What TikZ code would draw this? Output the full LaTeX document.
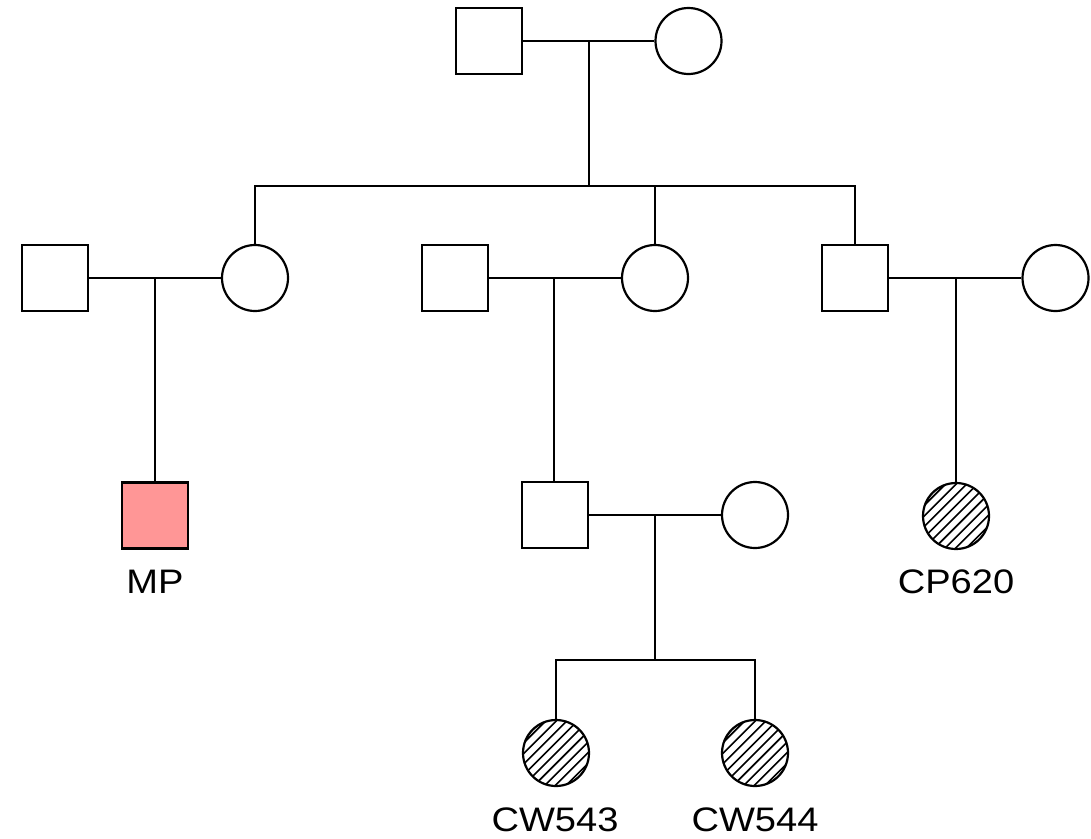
\documentclass[tikz,border=0pt]{standalone}
\usepackage{fontspec}
\setmainfont[FakeStretch=1.12]{Liberation Sans}
\usetikzlibrary{calc}
\definecolor{affpink}{RGB}{255,150,150}
\begin{document}
\begin{tikzpicture}[x=1pt,y=-1pt,line width=2.2pt,
  male/.style={draw,rectangle,minimum size=66pt,inner sep=0pt,line width=2.2pt,fill=white},
  female/.style={draw,circle,minimum size=66pt,inner sep=0pt,line width=2.2pt,fill=white},
  hatched/.style={path picture={
      \foreach \i in {-9,...,9}
        \draw[line width=1.6pt] ($(path picture bounding box.center)+(\i*10.6-50,50)$) -- ++(100,-100);}},
  lbl/.style={font=\fontsize{34}{38}\selectfont,anchor=base,inner sep=0pt}]
\useasboundingbox (0,0) rectangle (1091,838);
% generation I
\node[male]   (g1) at (489,41) {};
\node[female] (g2) at (688.5,41) {};
% generation II
\node[male]   (a1) at (55,278) {};
\node[female] (a2) at (255,278) {};
\node[male]   (b1) at (455,278) {};
\node[female] (b2) at (655,278) {};
\node[male]   (c1) at (855,278) {};
\node[female] (c2) at (1055.5,278) {};
% generation III
\node[male,fill=affpink] (mp) at (155,515.5) {};
\node[male]   (d1) at (555,515) {};
\node[female] (d2) at (755,515) {};
\node[female,hatched] (cp) at (956,516) {};
% generation IV
\node[female,hatched] (w1) at (556,753) {};
\node[female,hatched] (w2) at (755,753) {};
% labels
\node[lbl] (lmp) at (155,593) {MP};
\node[lbl] (lcp) at (956,593) {CP620};
\node[lbl] (lw1) at (555,831) {CW543};
\node[lbl] (lw2) at (755,831) {CW544};
% junctions
\coordinate (gm) at (589,41);
\coordinate (gs) at (589,186);
\coordinate (am) at (155,278);
\coordinate (bm) at (554,278);
\coordinate (cm) at (956,278);
\coordinate (dm) at (655,515);
\coordinate (ds) at (655,660);
% marriage lines
\draw (g1) -- (g2);
\draw (a1) -- (a2);
\draw (b1) -- (b2);
\draw (c1) -- (c2);
\draw (d1) -- (d2);
% descent lines
\draw (gm) -- (gs);
\draw (a2.north) |- (gs) -| (c1.north);
\draw (b2.north) -- (b2.north |- gs);
\draw (am) -- (mp.north);
\draw (bm) -- (d1.north -| bm);
\draw (cm) -- (cp.north);
\draw (dm) -- (ds);
\draw (w1.north) |- (ds) -| (w2.north);
\end{tikzpicture}
\end{document}
